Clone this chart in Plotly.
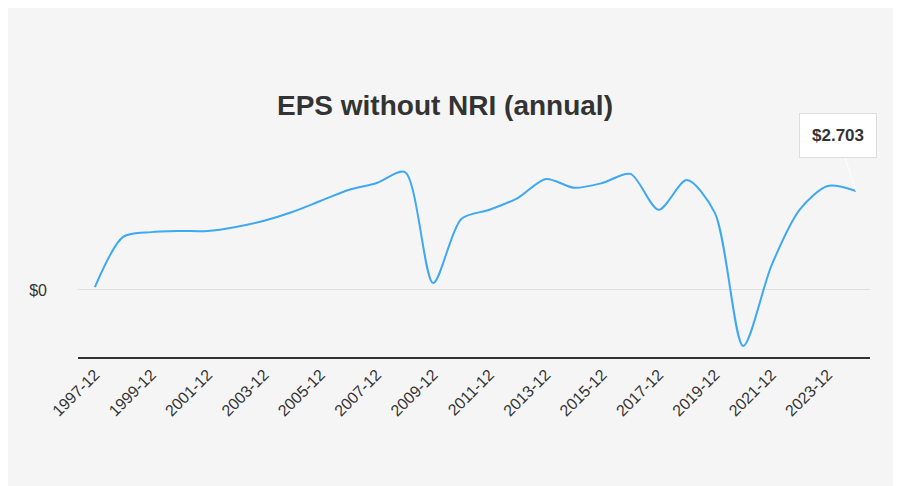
import plotly.graph_objects as go

years = [f"{y}-12" for y in range(1997, 2025)]
eps = [0.08, 1.45, 1.58, 1.61, 1.61, 1.72, 1.89, 2.13, 2.43, 2.73, 2.92, 3.22,
       0.19, 1.94, 2.19, 2.51, 3.03, 2.79, 2.92, 3.17, 2.19, 3.00, 2.10, -1.53,
       0.66, 2.19, 2.84, 2.703]
tick_labels = years[::2]

fig = go.Figure(go.Scatter(x=years, y=eps, mode="lines",
                           line=dict(color="#3ea8f4", width=2, shape="spline", smoothing=0.8),
                           hoverinfo="skip"))
fig.add_annotation(x=years[-1], y=eps[-1], text="<b>$%.3f</b>" % eps[-1], showarrow=True,
                   arrowhead=0, arrowwidth=1, arrowcolor="#ffffff", ax=-18, ay=-55,
                   bgcolor="#ffffff", bordercolor="#dddddd", borderpad=12,
                   font=dict(size=17, color="#333333", family="Liberation Sans"))
fig.update_layout(
    width=901, height=486, paper_bgcolor="#f5f5f5", plot_bgcolor="#f5f5f5",
    margin=dict(l=70, r=39, t=130, b=137), showlegend=False,
    title=dict(text="<b>EPS without NRI (annual)</b>", x=0.485, y=0.8, xanchor="center",
               yanchor="middle",
               font=dict(size=28, color="#333333", family="Liberation Sans")),
    font=dict(family="Liberation Sans", color="#333333"),
    xaxis=dict(type="category", tickvals=tick_labels, ticktext=tick_labels, tickangle=-45,
               tickfont=dict(size=16), showgrid=False, showline=True, linecolor="#333333",
               linewidth=2, ticks="", range=[-0.6, 27.5]),
    yaxis=dict(range=[-1.83, 4.15], tickvals=[0], ticktext=["$0"], tickfont=dict(size=16),
               showgrid=True, gridcolor="#e0e0e0", zeroline=False, ticks="",
               ticklabelstandoff=30),
)
fig.write_html("out.html")
